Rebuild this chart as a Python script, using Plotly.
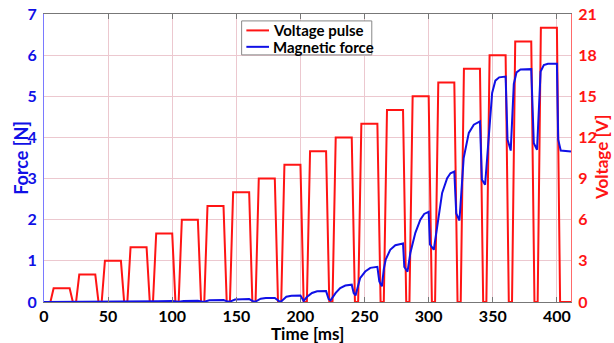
import plotly.graph_objects as go

# ---------------- data ----------------
pulse_start_ms = [5, 25, 45, 65, 85, 105, 125, 145, 165, 185,
                  205, 225, 245, 265, 285, 305, 325, 345, 365, 385]
pulse_volts = [1, 2, 3, 4, 5, 6, 7, 8, 9, 10,
               11, 12, 13, 14, 15, 16, 17, 18, 19, 20]
rise_ms = 2.5
plateau_end_ms = 15.0
fall_end_ms = 17.5
t_end_ms = 411

force_t = [0, 5, 9, 20, 23.5,
           25, 29, 40, 43.5,
           45, 49, 60, 63.5,
           65, 69, 80, 83.5,
           85, 89, 100, 103.5,
           105, 109, 120, 123.5,
           125, 129, 140, 143.5,
           145, 149, 160, 163.5,
           165, 169, 173, 180, 183.5,
           185, 189, 193, 200, 202.5,
           205, 209, 213, 220, 222, 223.5,
           226, 227.5, 231, 235, 240, 241.5, 243,
           244.5, 246.5, 250.5, 254.5, 260, 261.5, 263.5,
           265, 266.5, 270, 274, 280, 281, 283.5,
           285.7, 289.6, 293.5, 296.5, 300, 301, 304,
           306.6, 310.5, 314.4, 317, 320, 321.5, 324,
           327.3, 331.3, 335.2, 340, 341.5, 344,
           347, 349.5, 352, 355, 360, 361.5, 364,
           366.4, 368.5, 371.6, 380, 382, 384.5,
           387.3, 389.8, 393, 400, 401, 403, 411]
force_n = [0, 0, 0.004, 0.005, 0.002,
           0.002, 0.007, 0.008, 0.003,
           0.003, 0.010, 0.012, 0.004,
           0.004, 0.013, 0.016, 0.005,
           0.005, 0.018, 0.022, 0.006,
           0.006, 0.026, 0.032, 0.008,
           0.008, 0.040, 0.050, 0.010,
           0.010, 0.058, 0.070, 0.012,
           0.012, 0.080, 0.095, 0.100, 0.015,
           0.015, 0.130, 0.150, 0.160, 0.025,
           0.12, 0.22, 0.26, 0.265, 0.07, 0.04,
           0.15, 0.22, 0.34, 0.40, 0.42, 0.22, 0.16,
           0.35, 0.58, 0.74, 0.83, 0.855, 0.50, 0.38,
           0.80, 1.03, 1.27, 1.38, 1.42, 0.85, 0.74,
           1.19, 1.68, 2.00, 2.14, 2.19, 1.40, 1.27,
           1.84, 2.65, 3.01, 3.13, 3.17, 2.15, 1.98,
           3.50, 4.11, 4.31, 4.39, 2.98, 2.85,
           4.11, 5.08, 5.38, 5.46, 5.48, 3.95, 3.68,
           5.30, 5.58, 5.65, 5.66, 3.86, 3.70,
           5.60, 5.76, 5.79, 5.79, 3.95, 3.68, 3.66]

x_ticks = [0, 50, 100, 150, 200, 250, 300, 350, 400]
force_ticks = [0, 1, 2, 3, 4, 5, 6, 7]
volt_ticks = [0, 3, 6, 9, 12, 15, 18, 21]
legend_labels = ["Voltage pulse", "Magnetic force"]
x_title = "Time [ms]"
force_title = "Force [N]"
volt_title = "Voltage [V]"

# ---------------- build voltage waveform ----------------
volt_t, volt_v = [0], [0]
for s, v in zip(pulse_start_ms, pulse_volts):
    volt_t += [s, s + rise_ms, s + plateau_end_ms, s + fall_end_ms]
    volt_v += [0, v, v, 0]
volt_t.append(t_end_ms)
volt_v.append(0)

RED = "#ff1414"
BLUE = "#1010e6"
GRID = "#ecc8cf"
FONT = "Lato"

fig = go.Figure()
fig.add_trace(go.Scatter(x=volt_t, y=volt_v, mode="lines", name=legend_labels[0],
                         line=dict(color=RED, width=2), yaxis="y", showlegend=False))
fig.add_trace(go.Scatter(x=force_t, y=force_n, mode="lines", name=legend_labels[1],
                         line=dict(color=BLUE, width=2), yaxis="y2", showlegend=False))

# ---- legend box drawn in paper coordinates ----
lx0, lx1, ly0, ly1 = 0.375, 0.622, 0.858, 0.976
rows_y = [0.943, 0.886]
shapes = [dict(type="rect", xref="paper", yref="paper", x0=lx0, x1=lx1, y0=ly0, y1=ly1,
               line=dict(color="#888888", width=1), fillcolor="white", layer="above")]
annotations = []
for label, color, ry in zip(legend_labels, [RED, BLUE], rows_y):
    shapes.append(dict(type="line", xref="paper", yref="paper", x0=0.384, x1=0.427,
                       y0=ry, y1=ry, line=dict(color=color, width=2), layer="above"))
    annotations.append(dict(text=label, xref="paper", yref="paper", x=0.430, y=ry,
                            xanchor="left", yanchor="middle", showarrow=False,
                            font=dict(family=FONT, size=15, color="black", weight=700)))

# ---- axis titles ----
annotations.append(dict(text=x_title, xref="paper", yref="paper", x=0.5, y=-0.111,
                        xanchor="center", yanchor="middle", showarrow=False,
                        font=dict(family=FONT, size=17, color="black", weight=700)))
annotations.append(dict(text=force_title, xref="paper", yref="paper", x=-0.044, y=0.5,
                        xanchor="center", yanchor="middle", showarrow=False, textangle=-90,
                        font=dict(family=FONT, size=18, color=BLUE, weight=700)))
annotations.append(dict(text=volt_title, xref="paper", yref="paper", x=1.057, y=0.5,
                        xanchor="center", yanchor="middle", showarrow=False, textangle=-90,
                        font=dict(family=FONT, size=17, color=RED, weight=700)))

fig.update_layout(
    width=614, height=343,
    margin=dict(l=44, r=43, t=14, b=41),
    paper_bgcolor="white", plot_bgcolor="white",
    font=dict(family=FONT, size=16, color="black"),
    showlegend=False,
    shapes=shapes, annotations=annotations,
    xaxis=dict(range=[0, t_end_ms], tickvals=x_ticks, automargin=False,
               showgrid=True, gridcolor=GRID, gridwidth=1,
               showline=True, linecolor="#777777", linewidth=1, mirror="ticks",
               ticks="inside", ticklen=5, tickcolor="#777777",
               ticklabelstandoff=0, ticklabeloverflow="allow",
               tickfont=dict(family=FONT, size=16, color="black", weight=700),
               zeroline=False),
    yaxis=dict(range=[0, 21], tickvals=volt_ticks, side="right", automargin=False,
               showgrid=True, gridcolor=GRID, gridwidth=1,
               showline=True, linecolor="#ff6a6a", linewidth=1,
               ticks="", zeroline=False, ticklabelstandoff=3, ticklabeloverflow="allow",
               tickfont=dict(family=FONT, size=16, color=RED, weight=700)),
    yaxis2=dict(range=[0, 7], tickvals=force_ticks, side="left", overlaying="y",
                automargin=False,
                showgrid=False, showline=True, linecolor="#7a7aff", linewidth=1,
                ticks="", zeroline=False, ticklabelstandoff=3, ticklabeloverflow="allow",
                tickfont=dict(family=FONT, size=16, color=BLUE, weight=700)),
)

# remove the default 8px page margin so the figure fills the window exactly
fig.write_html("out.html", config={"displayModeBar": False},
               post_script="document.body.style.margin='0px';")
